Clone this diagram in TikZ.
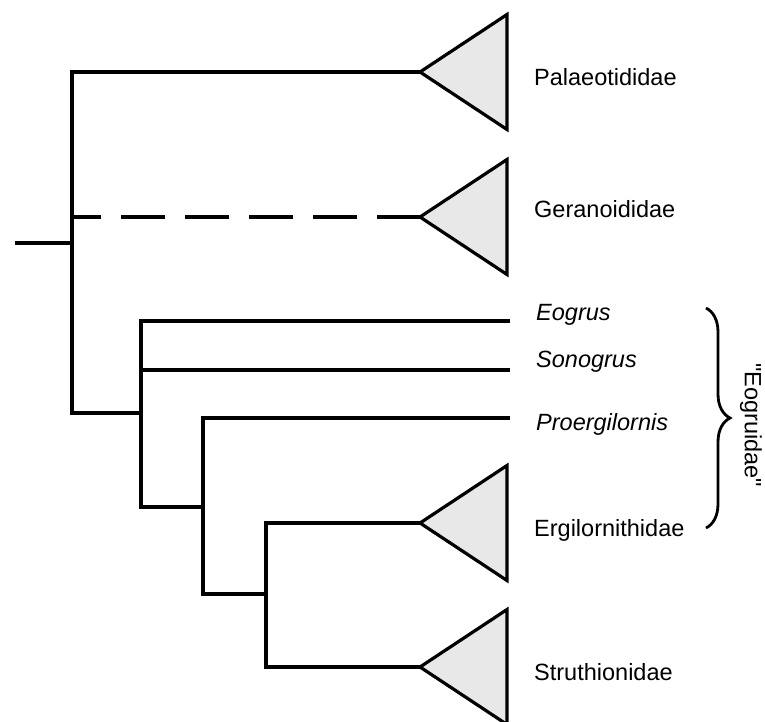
\documentclass[tikz,border=0pt]{standalone}
\usepackage{fontspec}
\setmainfont{Liberation Sans}[Ligatures=TeXOff]
\usetikzlibrary{decorations.pathreplacing}
\definecolor{trigray}{HTML}{E8E8E8}
\begin{document}
\begin{tikzpicture}[x=1pt,y=1pt,
  branch/.style={line width=3.2pt,line join=miter,line cap=rect},
  tri/.style={line width=3.2pt,line join=miter,fill=trigray},
  taxon/.style={anchor=base west,inner sep=0pt,font=\fontsize{23.5}{27}\selectfont},
  itaxon/.style={taxon,font=\fontsize{23.5}{27}\selectfont\itshape}]
\useasboundingbox (0,0) rectangle (765,-722);
% internal nodes
\coordinate (r0) at (17,-243);
\coordinate (n0) at (72,-243);
\coordinate (n1) at (141,-413);
\coordinate (n2) at (203,-507);
\coordinate (n3) at (266,-594);
% tips
\coordinate (palA) at (420,-72);
\coordinate (gerA) at (420,-217);
\coordinate (eogE) at (508,-321);
\coordinate (sonE) at (508,-370);
\coordinate (proE) at (508,-418);
\coordinate (ergA) at (420,-523);
\coordinate (strA) at (420,-667);
% triangles
\foreach \t in {palA,gerA,ergA,strA}
  \draw[tri] (\t) -- ++(87,57.5) -- ++(0,-115) -- cycle;
% branches
\draw[branch] (r0) -- (n0);
\draw[branch] (palA) -| (n0) |- (n1);
\draw[branch,line cap=butt,dash pattern=on 44pt off 20pt,dash phase=15pt] (n0 |- gerA) -- (gerA);
\draw[branch] (eogE) -| (n1) |- (n2);
\draw[branch] (n1 |- sonE) -- (sonE);
\draw[branch] (proE) -| (n2) |- (n3);
\draw[branch] (ergA) -| (n3) |- (strA);
% labels
\node[taxon] (lpal) at (534,-86) {Palaeotididae};
\node[taxon] (lger) at (534,-217) {Geranoididae};
\node[itaxon] (leog) at (536,-320) {Eogrus};
\node[itaxon] (lson) at (536,-367) {Sonogrus};
\node[itaxon] (lpro) at (536,-430) {Proergilornis};
\node[taxon] (lerg) at (534,-536) {Ergilornithidae};
\node[taxon] (lstr) at (534,-680) {Struthionidae};
% brace
\coordinate (bt) at (706,-308);
\coordinate (bb) at (706,-528);
\draw[line width=2.8pt,decorate,decoration={brace,amplitude=24pt}] (bt) -- (bb);
\node[rotate=-90,inner sep=0pt,font=\fontsize{23.5}{27}\selectfont] (lgrp) at (751,-425) {"Eogruidae"};
\end{tikzpicture}
\end{document}
